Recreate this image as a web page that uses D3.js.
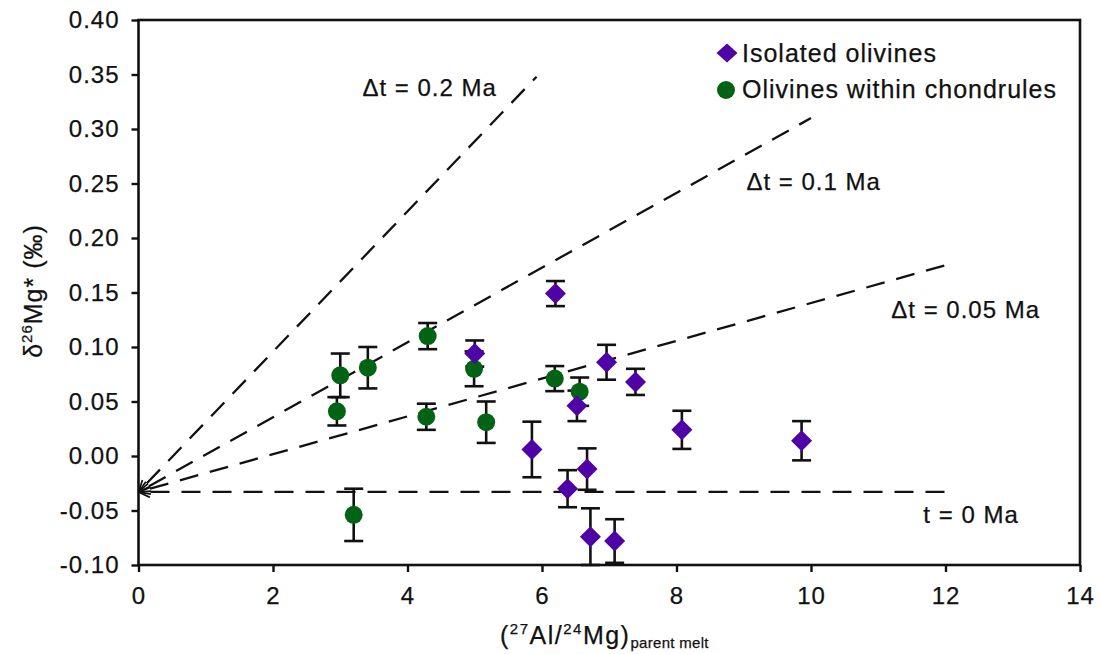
<!DOCTYPE html>
<html>
<head>
<meta charset="utf-8">
<script src="https://cdn.jsdelivr.net/npm/d3@7/dist/d3.min.js"></script>
<style>
  body { margin: 0; background: #fff; }
  svg text { font-family: "Liberation Sans", Arial, Helvetica, sans-serif; fill: #111; stroke: #111; stroke-width: 0.25px; }
</style>
</head>
<body>
<svg id="chart" width="1100" height="654"></svg>
<script>
// ---- data ----
const xTicks = [0, 2, 4, 6, 8, 10, 12, 14];
const yTicks = [-0.10, -0.05, 0.00, 0.05, 0.10, 0.15, 0.20, 0.25, 0.30, 0.35, 0.40];

const isoX   = [6.20, 6.96, 7.39, 6.52, 5.00, 8.08, 9.86, 5.85, 6.38, 6.67, 6.72, 7.08];
const isoY   = [0.149, 0.086, 0.068, 0.046, 0.094, 0.024, 0.014, 0.006, -0.030, -0.012, -0.074, -0.078];
const isoErr = [0.0115, 0.016, 0.012, 0.014, 0.012, 0.0175, 0.018, 0.0255, 0.017, 0.019, 0.026, 0.020];

const chonX   = [3.00, 2.95, 3.41, 4.30, 4.28, 4.99, 5.17, 6.19, 6.56, 3.20];
const chonY   = [0.074, 0.041, 0.081, 0.110, 0.036, 0.080, 0.031, 0.071, 0.059, -0.054];
const chonErr = [0.020, 0.013, 0.019, 0.012, 0.012, 0.016, 0.019, 0.0115, 0.013, 0.024];

const lineLabels = ["Δt = 0.2 Ma", "Δt = 0.1 Ma", "Δt = 0.05 Ma", "t = 0 Ma"];
const lineStartX = [0, 0, 0, 0];
const lineStartY = [-0.033, -0.033, -0.033, -0.033];
const lineEndX   = [5.92, 10.0, 12.0, 12.0];
const lineEndY   = [0.348, 0.310, 0.175, -0.033];
const lineLabelX = [4.33, 10.04, 12.3, 12.38];
const lineLabelY = [0.330, 0.244, 0.127, -0.0615];

const legendNames = ["Isolated olivines", "Olivines within chondrules"];

// ---- layout ----
const svg = d3.select("#chart");
const L = 138.5, R = 1080, T = 20, B = 565;
const x = d3.scaleLinear().domain([0, 14]).range([L, R]);
const y = d3.scaleLinear().domain([-0.10, 0.40]).range([B, T]);
const purple = "#4f02a6";
const green = "#036314";
const FS = 25;

// defs: open arrow marker
svg.append("defs").append("marker")
  .attr("id", "arr").attr("viewBox", "0 0 12 12").attr("refX", 0.5).attr("refY", 6)
  .attr("markerWidth", 13).attr("markerHeight", 13).attr("markerUnits", "userSpaceOnUse")
  .attr("orient", "auto")
  .append("path").attr("d", "M11,1 L0.5,6 L11,11").attr("fill", "none")
  .attr("stroke", "#111").attr("stroke-width", 1.6);

// axes
const yAxis = d3.axisLeft(y).tickValues(yTicks).tickSize(7).tickPadding(12)
  .tickFormat(d => d3.format(".2f")(d).replace("−", "-"));
const gy = svg.append("g").attr("transform", `translate(${L},0)`).call(yAxis);
gy.select(".domain").remove();
gy.selectAll("line").attr("stroke", "#111").attr("stroke-width", 2.4);
gy.selectAll("text").attr("font-size", FS - 1).attr("letter-spacing", "1px")
  .attr("font-family", "'Liberation Sans', Arial, sans-serif").attr("fill", "#111");

const xAxis = d3.axisBottom(x).tickValues(xTicks).tickFormat(d3.format("d")).tickSize(7).tickPadding(15);
const gx = svg.append("g").attr("transform", `translate(0,${B})`).call(xAxis);
gx.select(".domain").remove();
gx.selectAll("line").attr("stroke", "#111").attr("stroke-width", 2.4);
gx.selectAll("text").attr("font-size", FS - 1).attr("letter-spacing", "1px")
  .attr("font-family", "'Liberation Sans', Arial, sans-serif").attr("fill", "#111");

// frame
svg.append("rect").attr("x", L).attr("y", T).attr("width", R - L).attr("height", B - T)
  .attr("fill", "none").attr("stroke", "#111").attr("stroke-width", 2.6);

// dashed reference lines
const lines = lineLabels.map((l, i) => ({ l, x0: lineStartX[i], y0: lineStartY[i], x1: lineEndX[i], y1: lineEndY[i], lx: lineLabelX[i], ly: lineLabelY[i] }));
svg.append("g").selectAll("line").data(lines).join("line")
  .attr("x1", d => x(d.x0)).attr("y1", d => y(d.y0))
  .attr("x2", d => x(d.x1)).attr("y2", d => y(d.y1))
  .attr("stroke", "#111").attr("stroke-width", 2.3)
  .attr("stroke-dasharray", "19,12").attr("stroke-dashoffset", -12)
  .attr("marker-start", "url(#arr)");

svg.append("g").selectAll("text").data(lines).join("text")
  .attr("x", d => x(d.lx)).attr("y", d => y(d.ly)).attr("text-anchor", "middle")
  .attr("font-size", 24).attr("letter-spacing", "1px").text(d => d.l);

// error bars
function errorBars(xs, ys, es) {
  const data = xs.map((v, i) => ({ x: v, y: ys[i], e: es[i] }));
  const g = svg.append("g").attr("stroke", "#111").attr("stroke-width", 2.6);
  g.selectAll(".v").data(data).join("line")
    .attr("x1", d => x(d.x)).attr("x2", d => x(d.x))
    .attr("y1", d => y(Math.min(0.40, d.y + d.e))).attr("y2", d => y(Math.max(-0.10, d.y - d.e)));
  g.selectAll(".t").data(data).join("line")
    .attr("x1", d => x(d.x) - 9.5).attr("x2", d => x(d.x) + 9.5)
    .attr("y1", d => y(d.y + d.e)).attr("y2", d => y(d.y + d.e));
  g.selectAll(".b").data(data.filter(d => d.y - d.e > -0.1)).join("line")
    .attr("x1", d => x(d.x) - 9.5).attr("x2", d => x(d.x) + 9.5)
    .attr("y1", d => y(d.y - d.e)).attr("y2", d => y(d.y - d.e));
}
errorBars(chonX, chonY, chonErr);
errorBars(isoX, isoY, isoErr);

const diamond = "M0,-10.5 L10.5,0 L0,10.5 L-10.5,0 Z";

// chondrule olivines (circles)
svg.append("g").selectAll("circle").data(chonX.map((v, i) => ({ x: v, y: chonY[i] }))).join("circle")
  .attr("cx", d => x(d.x)).attr("cy", d => y(d.y)).attr("r", 9).attr("fill", green);

// isolated olivines (diamonds)
svg.append("g").selectAll("path").data(isoX.map((v, i) => ({ x: v, y: isoY[i] }))).join("path")
  .attr("transform", d => `translate(${x(d.x)},${y(d.y)})`).attr("d", diamond).attr("fill", purple);

// legend
const lg = svg.append("g");
lg.append("path").attr("transform", "translate(727,53)").attr("d", "M0,-9.5 L10.5,0 L0,9.5 L-10.5,0 Z").attr("fill", purple);
lg.append("circle").attr("cx", 726).attr("cy", 90).attr("r", 9).attr("fill", green);
lg.selectAll("text").data(legendNames).join("text")
  .attr("x", 742).attr("y", (d, i) => 62 + i * 36)
  .attr("font-size", FS).attr("letter-spacing", "1px").text(d => d);

// x axis title
const xt = svg.append("text").attr("x", 500).attr("y", 644).attr("font-size", FS).attr("letter-spacing", "1.5px");
xt.append("tspan").text("(");
xt.append("tspan").attr("font-size", 15).attr("dy", -10).text("27");
xt.append("tspan").attr("dy", 10).text("Al/");
xt.append("tspan").attr("font-size", 15).attr("dy", -10).text("24");
xt.append("tspan").attr("dy", 10).text("Mg)");
xt.append("tspan").attr("font-size", 15).attr("letter-spacing", "0.3px").attr("dy", 4).text("parent melt");

// y axis title
const yt = svg.append("text").attr("transform", "translate(42,291) rotate(-90)")
  .attr("text-anchor", "middle").attr("font-size", FS).attr("letter-spacing", "1px");
yt.append("tspan").text("δ");
yt.append("tspan").attr("font-size", 15).attr("dy", -10).text("26");
yt.append("tspan").attr("dy", 10).text("Mg* (‰)");
</script>
</body>
</html>
